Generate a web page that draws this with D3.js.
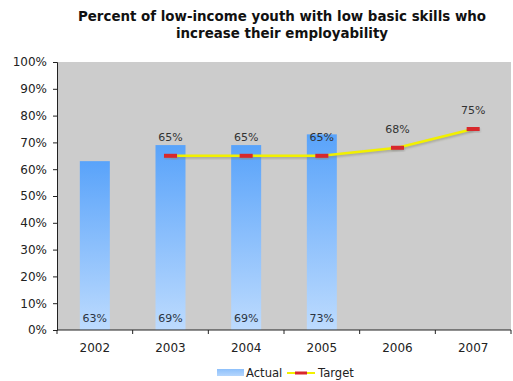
<!DOCTYPE html>
<html>
<head>
<meta charset="utf-8">
<script src="https://cdn.jsdelivr.net/npm/d3@7/dist/d3.min.js"></script>
<style>
  html, body { margin: 0; padding: 0; background: #fff; }
  svg { display: block; font-family: "DejaVu Sans", Verdana, sans-serif; }
</style>
</head>
<body>
<svg id="chart" width="513" height="381"></svg>
<script>
// Chart data
const years = ["2002", "2003", "2004", "2005", "2006", "2007"];
const actual = [63, 69, 69, 73, null, null];
const target = [null, 65, 65, 65, 68, 75];
const yTicks = [0, 10, 20, 30, 40, 50, 60, 70, 80, 90, 100];
const titleLines = ["Percent of low-income youth with low basic skills who", "increase their employability"];
const legendLabels = ["Actual", "Target"];

const svg = d3.select("#chart");
const margin = { left: 57, right: 2, top: 62, bottom: 51 };
const W = 513, H = 381;
const plotW = W - margin.left - margin.right;
const plotH = H - margin.top - margin.bottom;

const defs = svg.append("defs");
const grad = defs.append("linearGradient").attr("id", "barGrad")
  .attr("x1", 0).attr("y1", 0).attr("x2", 0).attr("y2", 1);
grad.append("stop").attr("offset", "0%").attr("stop-color", "#59a3fa");
grad.append("stop").attr("offset", "100%").attr("stop-color", "#bddbfe");
const lgGrad = defs.append("linearGradient").attr("id", "legGrad")
  .attr("x1", 0).attr("y1", 0).attr("x2", 0).attr("y2", 1);
lgGrad.append("stop").attr("offset", "0%").attr("stop-color", "#8dc0fb");
lgGrad.append("stop").attr("offset", "100%").attr("stop-color", "#b5d6fd");
const blur = defs.append("filter").attr("id", "soft");
blur.append("feGaussianBlur").attr("stdDeviation", 0.8);

// Title
svg.append("g").selectAll("text").data(titleLines).join("text")
  .attr("x", 282).attr("y", (d, i) => 21 + i * 17)
  .attr("text-anchor", "middle")
  .attr("font-size", 13.4).attr("font-weight", "bold").attr("fill", "#111")
  .text(d => d);

const g = svg.append("g").attr("transform", `translate(${margin.left},${margin.top})`);

const x = d3.scaleBand().domain(years).range([0, plotW]).paddingInner(0).paddingOuter(0);
const y = d3.scaleLinear().domain([0, 100]).range([plotH, 0]);

// Plot background
g.append("rect").attr("width", plotW).attr("height", plotH).attr("fill", "#cccccc");

// Bars
const barW = 30;
const barData = years.map((yr, i) => ({ yr, v: actual[i] })).filter(d => d.v != null);
g.append("g").selectAll("rect").data(barData).join("rect")
  .attr("x", d => x(d.yr) + x.bandwidth() / 2 - barW / 2)
  .attr("y", d => y(d.v))
  .attr("width", barW)
  .attr("height", d => plotH - y(d.v))
  .attr("fill", "url(#barGrad)");

// Actual value labels at the base of each bar
g.append("g").selectAll("text").data(barData).join("text")
  .attr("x", d => x(d.yr) + x.bandwidth() / 2)
  .attr("y", plotH - 8)
  .attr("text-anchor", "middle")
  .attr("font-size", 11).attr("fill", "#2b3442")
  .text(d => d.v + "%");

// Target line
const tData = years.map((yr, i) => ({ yr, v: target[i] })).filter(d => d.v != null);
const line = d3.line().x(d => x(d.yr) + x.bandwidth() / 2).y(d => y(d.v));
g.append("path").datum(tData).attr("d", line)
  .attr("fill", "none").attr("stroke", "#8a8a70").attr("stroke-width", 2.5)
  .attr("opacity", 0.6).attr("transform", "translate(0.5,1.5)").attr("filter", "url(#soft)");
g.append("path").datum(tData).attr("d", line)
  .attr("fill", "none").attr("stroke", "#f2f000").attr("stroke-width", 2.5);

// Target markers
const mw = 13, mh = 4;
g.append("g").selectAll("rect.shadow").data(tData).join("rect")
  .attr("x", d => x(d.yr) + x.bandwidth() / 2 - mw / 2 + 0.5)
  .attr("y", d => y(d.v) - mh / 2 + 1.5)
  .attr("width", mw).attr("height", mh)
  .attr("fill", "#888").attr("opacity", 0.5).attr("filter", "url(#soft)");
g.append("g").selectAll("rect.mark").data(tData).join("rect")
  .attr("x", d => x(d.yr) + x.bandwidth() / 2 - mw / 2)
  .attr("y", d => y(d.v) - mh / 2)
  .attr("width", mw).attr("height", mh)
  .attr("fill", "#d8282c");

// Target value labels
g.append("g").selectAll("text").data(tData).join("text")
  .attr("x", d => x(d.yr) + x.bandwidth() / 2)
  .attr("y", d => y(d.v) - 15)
  .attr("text-anchor", "middle")
  .attr("font-size", 11).attr("fill", "#333")
  .text(d => d.v + "%");

// Y axis
const yAxis = d3.axisLeft(y).tickValues(yTicks).tickFormat(d => d + "%").tickSize(4).tickPadding(6);
const ya = g.append("g").call(yAxis);
ya.select(".domain").attr("stroke", "#222");
ya.selectAll(".tick line").attr("stroke", "#222");
ya.selectAll("text").attr("font-size", 12).attr("fill", "#222").attr("font-family", "DejaVu Sans, sans-serif");

// X axis with ticks at category boundaries
const xa = g.append("g").attr("transform", `translate(0,${plotH})`);
xa.append("line").attr("x1", 0).attr("x2", plotW).attr("stroke", "#222");
xa.selectAll("line.tk").data(d3.range(years.length + 1)).join("line")
  .attr("class", "tk")
  .attr("x1", i => i * x.bandwidth()).attr("x2", i => i * x.bandwidth())
  .attr("y1", 0).attr("y2", 4).attr("stroke", "#222");
xa.selectAll("text").data(years).join("text")
  .attr("x", d => x(d) + x.bandwidth() / 2).attr("y", 22)
  .attr("text-anchor", "middle").attr("font-size", 12).attr("fill", "#222")
  .text(d => d);

// Legend
const lg = svg.append("g").attr("transform", "translate(0,373)");
lg.append("rect").attr("x", 217).attr("y", -4).attr("width", 27).attr("height", 7).attr("fill", "url(#legGrad)");
lg.append("text").attr("x", 246).attr("y", 4).attr("font-size", 11.6).attr("fill", "#222").text(legendLabels[0]);
lg.append("line").attr("x1", 287).attr("x2", 315).attr("y1", 0).attr("y2", 0).attr("stroke", "#f2f000").attr("stroke-width", 2);
lg.append("rect").attr("x", 295).attr("y", -1.5).attr("width", 12).attr("height", 3).attr("fill", "#d8282c");
lg.append("text").attr("x", 318).attr("y", 4).attr("font-size", 11.6).attr("fill", "#222").text(legendLabels[1]);
</script>
</body>
</html>
